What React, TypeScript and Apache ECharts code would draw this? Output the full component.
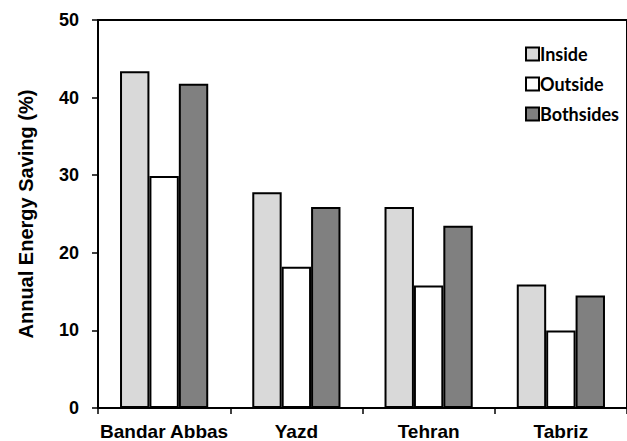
import React, { useEffect, useRef } from "react";
import * as echarts from "echarts";

const categories = ["Bandar Abbas", "Yazd", "Tehran", "Tabriz"];
const insideValues = [43.4, 27.8, 25.9, 15.9];
const outsideValues = [29.9, 18.2, 15.8, 10.0];
const bothsidesValues = [41.8, 25.9, 23.5, 14.5];
const seriesNames = ["Inside", "Outside", "Bothsides"];
const yTicks = { min: 0, max: 50, interval: 10 };

export default function App() {
  const ref = useRef<HTMLDivElement>(null);
  useEffect(() => {
    document.body.style.margin = "0";
    const chart = echarts.init(ref.current!, null, { renderer: "svg" });
    const colors = ["#d9d9d9", "#ffffff", "#808080"];
    const data = [insideValues, outsideValues, bothsidesValues];
    chart.setOption({
      animation: false,
      backgroundColor: "#ffffff",
      grid: {
        left: 98,
        top: 20,
        width: 540,
        height: 388,
        show: true,
        borderColor: "#000",
        borderWidth: 2,
        backgroundColor: "transparent",
      },
      legend: {
        orient: "vertical",
        left: 520,
        top: 40,
        itemWidth: 13,
        itemHeight: 13,
        itemGap: 12,
        icon: "rect",
        textStyle: { fontFamily: "Lato", fontWeight: "bold", fontSize: 18, color: "#000", padding: [0, 0, 0, -4] },
        data: seriesNames,
      },
      xAxis: {
        type: "category",
        data: categories,
        axisLine: { lineStyle: { color: "#000", width: 2 } },
        axisTick: { show: true, interval: 0, length: 6, lineStyle: { color: "#000", width: 1.5 } },
        axisLabel: {
          interval: 0,
          margin: 14,
          color: "#000",
          fontFamily: "Liberation Sans",
          fontWeight: "bold",
          fontSize: 19,
        },
      },
      yAxis: {
        type: "value",
        min: yTicks.min,
        max: yTicks.max,
        interval: yTicks.interval,
        name: "Annual Energy Saving (%)",
        nameLocation: "middle",
        nameGap: 62,
        nameTextStyle: { color: "#000", fontFamily: "Liberation Sans", fontWeight: "bold", fontSize: 20 },
        splitLine: { show: false },
        axisLine: { show: true, lineStyle: { color: "#000", width: 2 } },
        axisTick: { show: true, length: 6, lineStyle: { color: "#000", width: 1.5 } },
        axisLabel: {
          margin: 19,
          color: "#000",
          fontFamily: "Liberation Sans",
          fontWeight: "bold",
          fontSize: 18,
        },
      },
      series: seriesNames.map((name, i) => ({
        name,
        type: "bar",
        data: data[i],
        barGap: "0%",
        barCategoryGap: "33.3%",
        itemStyle: { color: colors[i], borderColor: "#000", borderWidth: 2 },
      })),
    });
    return () => chart.dispose();
  }, []);
  return <div ref={ref} style={{ width: 627, height: 441 }} />;
}
